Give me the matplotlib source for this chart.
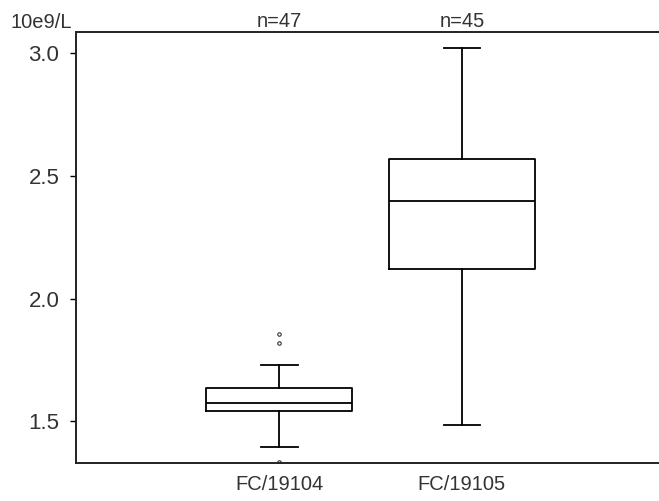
import matplotlib.pyplot as plt

# box summaries (10e9/L)
groups = ["FC/19104", "FC/19105"]
counts = [47, 45]
med = [1.573, 2.397]
q1 = [1.541, 2.119]
q3 = [1.634, 2.568]
whislo = [1.394, 1.483]
whishi = [1.728, 3.024]
fliers = [[1.855, 1.820, 1.336], []]

plt.rcParams['font.family'] = ['Liberation Sans', 'DejaVu Sans']

fig = plt.figure(figsize=(6.59, 5.01), dpi=100)
ax = fig.add_axes([76 / 659, 38 / 501, 583 / 659, (463 - 32.3) / 501])

stats = []
for i in range(len(groups)):
    stats.append(dict(med=med[i], q1=q1[i], q3=q3[i], whislo=whislo[i],
                      whishi=whishi[i], fliers=fliers[i], label=groups[i]))

lw = 1.3
ax.bxp(stats, positions=[1, 2], widths=0.8, capwidths=0.2,
       boxprops=dict(color='black', linewidth=lw),
       medianprops=dict(color='black', linewidth=lw),
       whiskerprops=dict(color='black', linewidth=lw),
       capprops=dict(color='black', linewidth=lw),
       flierprops=dict(marker='o', markersize=2.5, markerfacecolor='none',
                       markeredgecolor='#333333', markeredgewidth=0.8))

ax.set_xlim(-0.115, 3.08)
ax.set_ylim(1.330, 3.086)
ax.set_yticks([1.5, 2.0, 2.5, 3.0])
ax.set_yticklabels(["1.5", "2.0", "2.5", "3.0"])

ax.spines['right'].set_visible(False)
for s in ['left', 'top', 'bottom']:
    ax.spines[s].set_linewidth(1.4)
    ax.spines[s].set_color('#222222')

ax.tick_params(axis='y', length=4, width=1, pad=8, labelsize=16, labelcolor='#333333')
ax.tick_params(axis='x', length=0, pad=9, labelsize=14.5, labelcolor='#333333')

for i in range(len(groups)):
    ax.text(i + 1, 1.0 + 2 / 501, f"n={counts[i]}", transform=ax.get_xaxis_transform(),
            ha='center', va='bottom', fontsize=14.5, color='#333333')
fig.text(10 / 659, 1 - 23 / 501, "10e9/L", ha='left', va='center',
         fontsize=14.5, color='#333333')

fig.savefig("out.png", dpi=100)
